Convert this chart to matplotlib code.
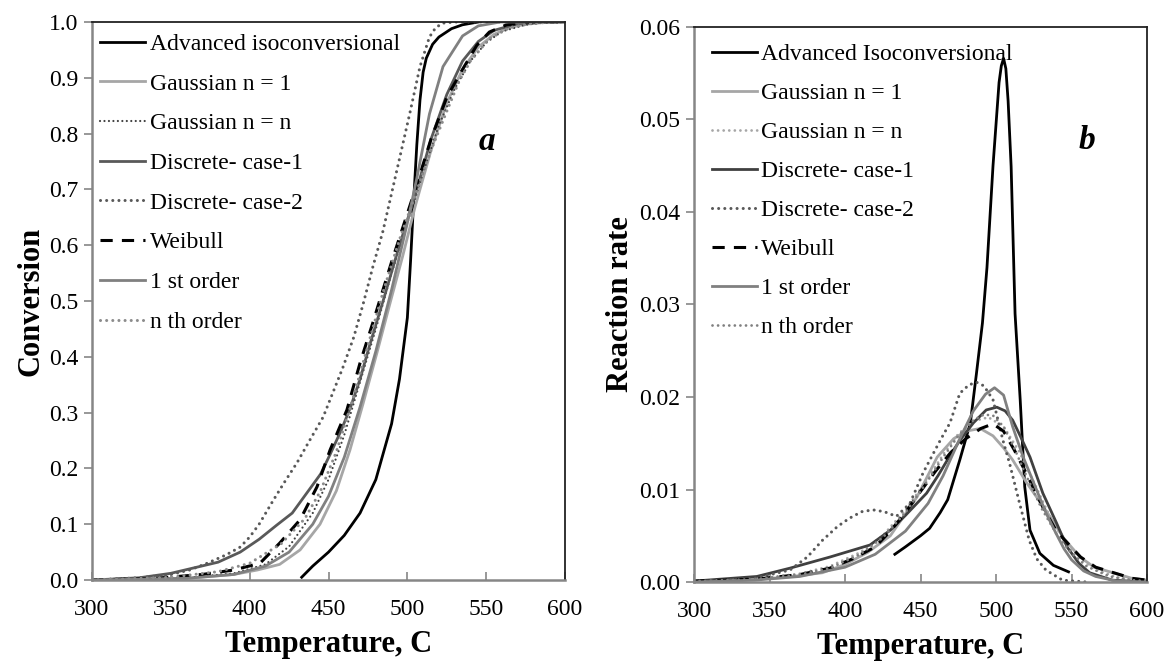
import matplotlib
matplotlib.use("Agg")
import matplotlib.pyplot as plt

plt.rcParams['font.family'] = ['Liberation Serif', 'DejaVu Serif']

# ---------------- Panel a : conversion ----------------
adv_T = [433, 440, 450, 460, 470, 480, 490, 495, 500, 502, 504, 506, 508, 510, 512, 516, 520, 528, 535, 545]
adv_a = [0.005, 0.025, 0.05, 0.08, 0.12, 0.18, 0.28, 0.36, 0.47, 0.57, 0.68, 0.78, 0.86, 0.91, 0.935, 0.96, 0.973, 0.988, 0.995, 1.0]

g1_T = [300, 360, 390, 405, 419, 432, 444.6, 455, 463.6, 472, 480.7, 489, 497, 505, 515, 525, 535, 545, 555, 565, 575, 590, 600]
g1_a = [0.0, 0.003, 0.01, 0.018, 0.028, 0.054, 0.10, 0.16, 0.233, 0.317, 0.407, 0.496, 0.58, 0.67, 0.77, 0.855, 0.915, 0.955, 0.978, 0.99, 0.996, 1.0, 1.0]

gn_T = [300, 360, 390, 410, 425, 440, 450, 460, 470, 480, 490, 500, 510, 520, 530, 540, 550, 560, 575, 590, 600]
gn_a = [0.0, 0.004, 0.012, 0.028, 0.06, 0.12, 0.18, 0.26, 0.355, 0.45, 0.55, 0.64, 0.73, 0.815, 0.88, 0.93, 0.963, 0.983, 0.995, 1.0, 1.0]

d1_T = [300, 330, 350, 362, 380, 394, 406, 417, 427, 436, 445, 451, 458, 464, 470, 476, 484.6, 495, 505, 515, 525, 535, 545, 555, 570, 590, 600]
d1_a = [0.0, 0.004, 0.012, 0.02, 0.032, 0.05, 0.073, 0.098, 0.12, 0.155, 0.19, 0.225, 0.268, 0.31, 0.36, 0.42, 0.5, 0.6, 0.69, 0.79, 0.87, 0.93, 0.965, 0.985, 0.997, 1.0, 1.0]

d2_T = [300, 330, 350, 362, 373, 385, 394, 400, 406, 415, 422, 430, 438, 446.6, 459, 466, 472, 478, 484.5, 493, 501.6, 508, 514, 518, 522.6, 530, 600]
d2_a = [0.0, 0.004, 0.01, 0.018, 0.03, 0.045, 0.059, 0.077, 0.10, 0.143, 0.175, 0.21, 0.25, 0.292, 0.38, 0.435, 0.495, 0.56, 0.625, 0.73, 0.837, 0.92, 0.973, 0.99, 0.998, 1.0, 1.0]

wb_T = [300, 340, 370, 390, 406.5, 419, 432, 442.7, 451, 461.7, 470, 478, 490, 505, 515, 525, 535, 544, 552, 563, 580, 600]
wb_a = [0.0, 0.003, 0.01, 0.018, 0.03, 0.066, 0.108, 0.167, 0.233, 0.305, 0.389, 0.46, 0.57, 0.70, 0.79, 0.865, 0.915, 0.958, 0.982, 0.995, 1.0, 1.0]

fo_T = [300, 360, 390, 410, 425, 440, 450, 460, 470, 480, 490, 500, 506, 514, 522.6, 535, 545, 559, 600]
fo_a = [0.0, 0.003, 0.01, 0.025, 0.05, 0.10, 0.15, 0.22, 0.31, 0.41, 0.52, 0.64, 0.72, 0.835, 0.92, 0.975, 0.993, 1.0, 1.0]

no_T = [300, 350, 380, 400, 420, 435, 445, 455, 465, 475, 485, 495, 505, 515, 525, 533, 540, 552, 565, 580, 600]
no_a = [0.0, 0.005, 0.015, 0.03, 0.065, 0.11, 0.16, 0.23, 0.32, 0.42, 0.52, 0.61, 0.69, 0.77, 0.84, 0.895, 0.93, 0.97, 0.99, 0.998, 1.0]

# ---------------- Panel b : reaction rate ----------------
adv_Tb = [433, 440, 450, 456, 463, 468, 476, 483, 487, 491, 494, 498, 502, 503.5, 505, 506.5, 508, 510, 512.6, 516, 519, 522.5, 529, 538, 548]
adv_r = [0.003, 0.0038, 0.005, 0.0058, 0.0075, 0.0089, 0.0132, 0.0172, 0.0225, 0.028, 0.034, 0.045, 0.054, 0.0558, 0.0566, 0.0555, 0.052, 0.0449, 0.029, 0.0197, 0.0103, 0.0056, 0.0031, 0.0018, 0.0011]

g1_Tb = [300, 330, 360, 385, 400, 415, 430, 447.7, 461, 472, 480, 489.5, 498, 505, 511, 520, 534, 545, 555.6, 565, 577.5, 590, 600]
g1_r = [0.0001, 0.0002, 0.0005, 0.001, 0.0019, 0.0032, 0.005, 0.0092, 0.0135, 0.0155, 0.0163, 0.0166, 0.0158, 0.0145, 0.0132, 0.0108, 0.0075, 0.0047, 0.0027, 0.0016, 0.001, 0.0004, 0.0002]

gn_Tb = [300, 340, 370, 390, 410, 425, 440, 455, 465, 475, 485, 495, 505, 515, 525, 535, 545, 555, 565, 580, 600]
gn_r = [0.0001, 0.0003, 0.0009, 0.0017, 0.0032, 0.005, 0.0078, 0.0112, 0.0138, 0.016, 0.0174, 0.0178, 0.0168, 0.0142, 0.0108, 0.0073, 0.0045, 0.0026, 0.0014, 0.0005, 0.0001]

d1_Tb = [300, 341.6, 363.6, 390, 416.5, 430, 440, 454, 461.6, 470, 476, 485, 493.5, 500.5, 506, 511, 516, 522.5, 531, 540, 547, 555, 562, 577, 600]
d1_r = [0.0001, 0.0006, 0.0015, 0.0027, 0.004, 0.0056, 0.0072, 0.0096, 0.0115, 0.0138, 0.0153, 0.0172, 0.0186, 0.0189, 0.0185, 0.0175, 0.0158, 0.0135, 0.0096, 0.0064, 0.0038, 0.002, 0.001, 0.0002, 0.0]

d2_Tb = [300, 340, 363.6, 375, 385, 395, 403, 411, 418.5, 426, 434, 443, 451.7, 463, 469.5, 476, 482, 487, 492, 498, 504.6, 509, 515.6, 522, 527, 533, 544, 560]
d2_r = [0.0, 0.0004, 0.0013, 0.0027, 0.0045, 0.006, 0.0069, 0.0076, 0.0078, 0.0076, 0.0071, 0.0085, 0.0118, 0.0153, 0.0172, 0.0204, 0.0213, 0.0216, 0.0212, 0.0197, 0.0153, 0.0128, 0.0085, 0.0045, 0.0025, 0.0013, 0.0002, 0.0]

wb_Tb = [300, 340, 370, 390, 405, 420, 430, 440, 450, 460, 470, 480, 490, 498, 505, 512, 518, 525, 531, 540, 556, 566, 578, 590, 600]
wb_r = [0.0001, 0.0003, 0.0008, 0.0015, 0.0025, 0.0038, 0.0055, 0.0075, 0.0098, 0.012, 0.014, 0.0155, 0.0166, 0.0171, 0.0163, 0.0143, 0.0124, 0.0101, 0.0081, 0.0055, 0.0027, 0.0016, 0.001, 0.0004, 0.0002]

fo_Tb = [300, 340, 370, 400, 420, 440, 455, 465, 476, 485, 493, 499, 505, 511, 518, 526, 533, 539.6, 545, 550, 558, 566, 580, 600]
fo_r = [0.0, 0.0002, 0.0006, 0.0016, 0.003, 0.0055, 0.0085, 0.0115, 0.0155, 0.0185, 0.0203, 0.021, 0.0202, 0.0168, 0.0135, 0.0103, 0.0075, 0.0053, 0.0036, 0.0024, 0.0012, 0.0006, 0.0001, 0.0]

no_Tb = [300, 340, 370, 390, 410, 425, 440, 455, 465, 475, 485, 492, 498, 505, 512, 520, 530, 540, 550, 560, 575, 590, 600]
no_r = [0.0001, 0.0003, 0.0008, 0.0015, 0.003, 0.0048, 0.0075, 0.011, 0.0135, 0.0158, 0.0175, 0.0181, 0.018, 0.0168, 0.0145, 0.0115, 0.008, 0.0052, 0.0031, 0.0017, 0.0006, 0.0002, 0.0001]

labels_a = ["Advanced isoconversional", "Gaussian n = 1", "Gaussian n = n", "Discrete- case-1",
            "Discrete- case-2", "Weibull", "1 st order", "n th order"]
labels_b = ["Advanced Isoconversional", "Gaussian n = 1", "Gaussian n = n", "Discrete- case-1",
            "Discrete- case-2", "Weibull", "1 st order", "n th order"]

x_ticks = [300, 350, 400, 450, 500, 550, 600]
ya_ticks = [0.0, 0.1, 0.2, 0.3, 0.4, 0.5, 0.6, 0.7, 0.8, 0.9, 1.0]
yb_ticks = [0.00, 0.01, 0.02, 0.03, 0.04, 0.05, 0.06]

DOT = (0, (0.01, 2.0))
LW = 2.0
styles_a = [
    dict(color='#000000', ls='-', lw=LW),
    dict(color='#A6A6A6', ls='-', lw=LW),
    dict(color='#404040', ls=DOT, lw=1.6),
    dict(color='#595959', ls='-', lw=LW),
    dict(color='#595959', ls=DOT, lw=2.2),
    dict(color='#000000', ls=(0, (4, 3)), lw=2.2),
    dict(color='#808080', ls='-', lw=LW),
    dict(color='#8C8C8C', ls=DOT, lw=2.2),
]
styles_b = [
    dict(color='#000000', ls='-', lw=LW),
    dict(color='#A6A6A6', ls='-', lw=LW),
    dict(color='#A6A6A6', ls=DOT, lw=2.0),
    dict(color='#404040', ls='-', lw=LW),
    dict(color='#595959', ls=DOT, lw=2.2),
    dict(color='#000000', ls=(0, (4, 3)), lw=2.2),
    dict(color='#808080', ls='-', lw=LW),
    dict(color='#808080', ls=DOT, lw=2.0),
]

data_a = [(adv_T, adv_a), (g1_T, g1_a), (gn_T, gn_a), (d1_T, d1_a),
          (d2_T, d2_a), (wb_T, wb_a), (fo_T, fo_a), (no_T, no_a)]
data_b = [(adv_Tb, adv_r), (g1_Tb, g1_r), (gn_Tb, gn_r), (d1_Tb, d1_r),
          (d2_Tb, d2_r), (wb_Tb, wb_r), (fo_Tb, fo_r), (no_Tb, no_r)]

fig = plt.figure(figsize=(11.67, 6.66), dpi=100)
ax1 = fig.add_axes([0.0788, 0.1291, 0.4054, 0.8379])
ax2 = fig.add_axes([0.5947, 0.1261, 0.3882, 0.8334])

FS = 17
LFS = 22

def style_axes(ax, yticks, fmt):
    ax.set_xlim(300, 600)
    ax.set_xticks(x_ticks)
    ax.set_yticks(yticks)
    ax.set_yticklabels([fmt.format(v) for v in yticks])
    for s in ['left', 'bottom']:
        ax.spines[s].set_color('#868686')
        ax.spines[s].set_linewidth(1.8)
    for s in ['top', 'right']:
        ax.spines[s].set_color('#222222')
        ax.spines[s].set_linewidth(1.3)
    ax.tick_params(axis='y', direction='out', length=6, width=1.2, color='#868686',
                   labelsize=FS, pad=4)
    ax.tick_params(axis='x', direction='in', length=6, width=1.2, color='#868686',
                   labelsize=FS, pad=14)
    ax.tick_params(top=False, right=False)

for (T, v), st, lab in zip(data_a, styles_a, labels_a):
    ax1.plot(T, v, color=st['color'], linestyle=st['ls'], linewidth=st['lw'],
             dash_capstyle='round' if st['ls'] is DOT else 'butt', label=lab)
ax1.set_ylim(0, 1.0)
style_axes(ax1, ya_ticks, "{:.1f}")
ax1.set_xlabel("Temperature, C", fontsize=LFS, fontweight='bold', labelpad=7)
ax1.set_ylabel("Conversion", fontsize=LFS, fontweight='bold', labelpad=2)
ax1.text(0.835, 0.785, "a", transform=ax1.transAxes, fontsize=24, fontweight='bold',
         fontstyle='italic', ha='center', va='center')
ax1.legend(loc='upper left', frameon=False, fontsize=FS, handlelength=1.9,
           handletextpad=0.2, labelspacing=0.77, borderaxespad=0.2,
           bbox_to_anchor=(-0.012, 1.005))

for (T, v), st, lab in zip(data_b, styles_b, labels_b):
    ax2.plot(T, v, color=st['color'], linestyle=st['ls'], linewidth=st['lw'],
             dash_capstyle='round' if st['ls'] is DOT else 'butt', label=lab)
ax2.set_ylim(0, 0.06)
style_axes(ax2, yb_ticks, "{:.2f}")
ax2.set_xlabel("Temperature, C", fontsize=LFS, fontweight='bold', labelpad=7)
ax2.set_ylabel("Reaction rate", fontsize=LFS, fontweight='bold', labelpad=3)
ax2.text(0.868, 0.795, "b", transform=ax2.transAxes, fontsize=24, fontweight='bold',
         fontstyle='italic', ha='center', va='center')
ax2.legend(loc='upper left', frameon=False, fontsize=FS, handlelength=1.9,
           handletextpad=0.2, labelspacing=0.74, borderaxespad=0.2,
           bbox_to_anchor=(0.008, 0.995))

fig.savefig("out.png", dpi=100)
